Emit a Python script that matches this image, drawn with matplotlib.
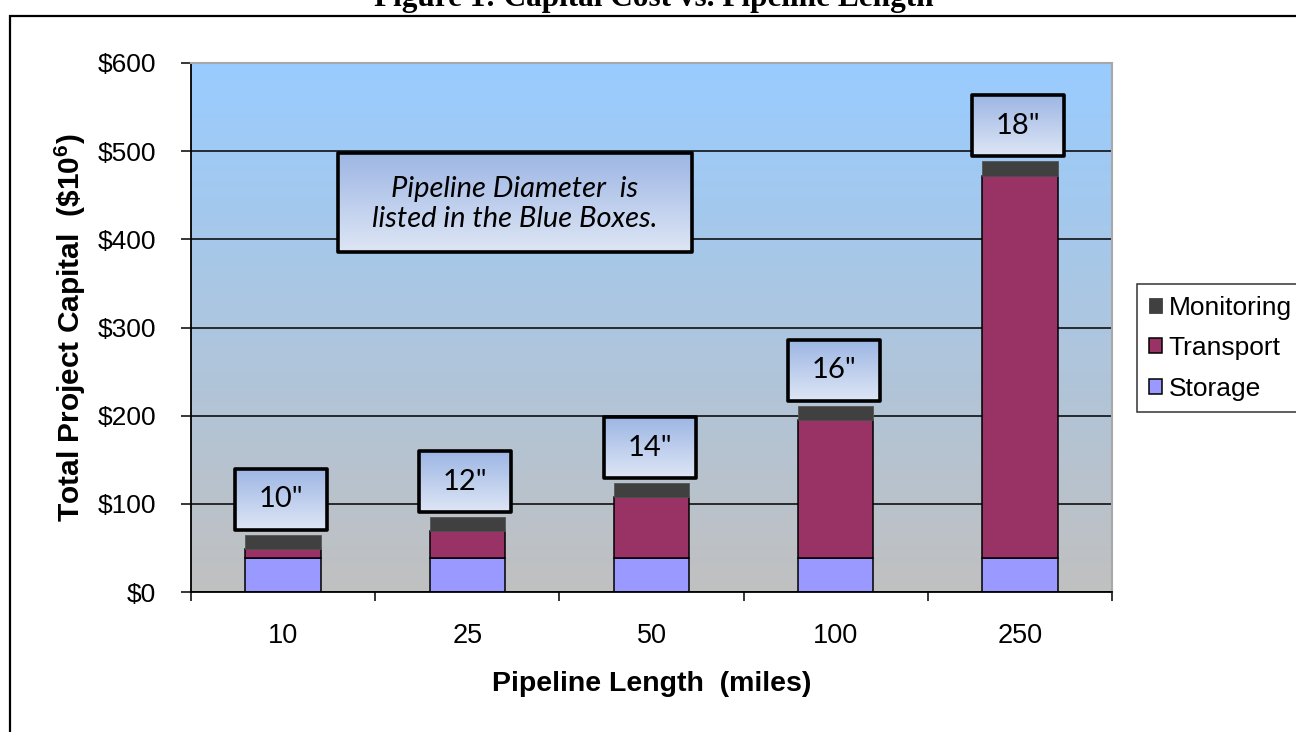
import numpy as np
import matplotlib
matplotlib.use("Agg")
import matplotlib.pyplot as plt
from matplotlib.patches import Rectangle, Patch

# ---- data ----
lengths = ["10", "25", "50", "100", "250"]          # pipeline length (miles)
diameters = ['10"', '12"', '14"', '16"', '18"']     # pipeline diameter per case
storage = [38, 38, 38, 38, 38]                      # $ millions
transport = [11, 31, 69.5, 157, 434]
monitoring = [16, 16, 16, 16.5, 16.5]
yticks = [0, 100, 200, 300, 400, 500, 600]

SANS = "Liberation Sans"
BOXFONT = "Lato"
plt.rcParams["font.family"] = [SANS, "DejaVu Sans"]
plt.rcParams["mathtext.fontset"] = "custom"
plt.rcParams["mathtext.rm"] = SANS
plt.rcParams["mathtext.bf"] = SANS + ":bold"

W, H = 1296, 732
fig = plt.figure(figsize=(W / 100, H / 100), dpi=100)
fig.patch.set_facecolor("white")

# plot area in pixel terms
L, R, T, B = 191, 1112, 63, 592
ax = fig.add_axes([L / W, 1 - B / H, (R - L) / W, (B - T) / H])

x = np.arange(len(lengths))


def set_limits():
    ax.set_xlim(-0.5, len(lengths) - 0.5)
    ax.set_ylim(yticks[0], yticks[-1])


set_limits()

# vertical gradient background: sky blue on top fading to grey at the bottom
top_c = np.array([153, 204, 255]) / 255
bot_c = np.array([192, 192, 192]) / 255
t = np.linspace(0, 1, 256)[:, None]
grad = (top_c * (1 - t) + bot_c * t)[:, None, :]
ax.patch.set_visible(False)
ax.imshow(grad, extent=(0, 1, 0, 1), transform=ax.transAxes, aspect="auto",
          zorder=0, interpolation="bilinear")

ax.set_axisbelow(True)
ax.yaxis.grid(True, color="black", lw=1.1, zorder=0.5)

bw = 0.41
s_col, t_col, m_col = "#9999FF", "#993366", "#404040"
bottoms2 = np.array(storage) + np.array(transport)
ax.bar(x, storage, bw, color=s_col, edgecolor="black", lw=1.1, zorder=2, label="Storage")
ax.bar(x, transport, bw, bottom=storage, color=t_col, edgecolor="black", lw=1.1,
       zorder=2, label="Transport")
ax.bar(x, monitoring, bw, bottom=bottoms2, color=m_col, edgecolor="#555555", lw=0.6,
       zorder=2, label="Monitoring")
set_limits()

# axes frame
for side in ("left", "bottom"):
    ax.spines[side].set_color("black")
    ax.spines[side].set_linewidth(1.3)
for side in ("top", "right"):
    ax.spines[side].set_color("#A8A8A8")
    ax.spines[side].set_linewidth(1.5)

ax.set_yticks(yticks)
ax.set_yticklabels([f"${v}" for v in yticks])
ax.set_xticks(x)
ax.set_xticklabels(lengths)
ax.set_xticks(np.arange(-0.5, len(lengths)), minor=True)
ax.tick_params(axis="y", direction="out", length=7, width=1.1, pad=18, labelsize=19)
ax.tick_params(axis="x", which="major", length=0, pad=22, labelsize=19.5)
ax.tick_params(axis="x", which="minor", direction="out", length=6.5, width=1.1)

ax.set_ylabel(r"Total Project Capital  (\$10$^{\mathbf{6}}$)", fontsize=21.5,
              fontweight="bold", labelpad=7)
ax.set_xlabel("Pipeline Length  (miles)", fontsize=20.5, fontweight="bold", labelpad=16)

# diameter call-out boxes above each bar (sized in pixels)
btop_c = np.array([157, 182, 228]) / 255
bbot_c = np.array([222, 230, 245]) / 255
bgrad = (btop_c * (1 - t) + bbot_c * t)[:, None, :]
inv = ax.transData.inverted()
totals = bottoms2 + np.array(monitoring)
bw_px, bh_px, gap_px = 92, 61, 5
for xi, tot, lab in zip(x, totals, diameters):
    cx, ty = ax.transData.transform((xi, tot))
    x0, y0 = inv.transform((cx - bw_px / 2 - 2, ty + gap_px))
    x1, y1 = inv.transform((cx + bw_px / 2 - 2, ty + gap_px + bh_px))
    ax.imshow(bgrad, extent=(x0, x1, y0, y1), aspect="auto", zorder=3,
              interpolation="bilinear")
    ax.add_patch(Rectangle((x0, y0), x1 - x0, y1 - y0, fill=False, ec="black",
                           lw=2.6, joinstyle="round", zorder=3.5))
    ax.text((x0 + x1) / 2, (y0 + y1) / 2, lab, ha="center", va="center",
            fontsize=21, family=BOXFONT, zorder=4)

# explanatory note box
nx0, nx1 = (338 - L) / (R - L), (692 - L) / (R - L)
ny0, ny1 = (B - 252) / (B - T), (B - 153) / (B - T)
ax.imshow(bgrad, extent=(nx0, nx1, ny0, ny1), transform=ax.transAxes,
          aspect="auto", zorder=3, interpolation="bilinear")
ax.add_patch(Rectangle((nx0, ny0), nx1 - nx0, ny1 - ny0, transform=ax.transAxes,
                       fill=False, ec="black", lw=2.6, joinstyle="round", zorder=3.5))
ax.text((nx0 + nx1) / 2, (ny0 + ny1) / 2 - 0.003,
        "Pipeline Diameter  is\nlisted in the Blue Boxes.",
        transform=ax.transAxes, ha="center", va="center", fontsize=21,
        style="italic", family=BOXFONT, linespacing=1.18, zorder=4)
set_limits()

# legend (reverse stacking order)
handles = [Patch(facecolor=m_col, edgecolor=m_col, lw=0.6),
           Patch(facecolor=t_col, edgecolor="black", lw=1.1),
           Patch(facecolor=s_col, edgecolor="black", lw=1.1)]
leg = fig.legend(handles, ["Monitoring", "Transport", "Storage"],
                 loc="upper left", bbox_to_anchor=(1137 / W, 1 - 284 / H),
                 fontsize=19, frameon=True, fancybox=False, borderpad=0.45,
                 labelspacing=0.62, handlelength=0.5, handleheight=0.5,
                 handletextpad=0.25, borderaxespad=0)
leg.get_frame().set_edgecolor("black")
leg.get_frame().set_linewidth(1.1)

# figure caption and page frame
fig.text(654 / W, 1 - 6 / H, "Figure 1: Capital Cost vs. Pipeline Length",
         ha="center", va="baseline", fontsize=22.5, fontweight="bold",
         family="Liberation Serif")
fig.add_artist(Rectangle((10 / W, -0.1), 1.2, (H - 16) / H + 0.1,
                         transform=fig.transFigure, fill=False, ec="black",
                         lw=1.6, clip_on=False))

fig.savefig("out.png", dpi=100)
